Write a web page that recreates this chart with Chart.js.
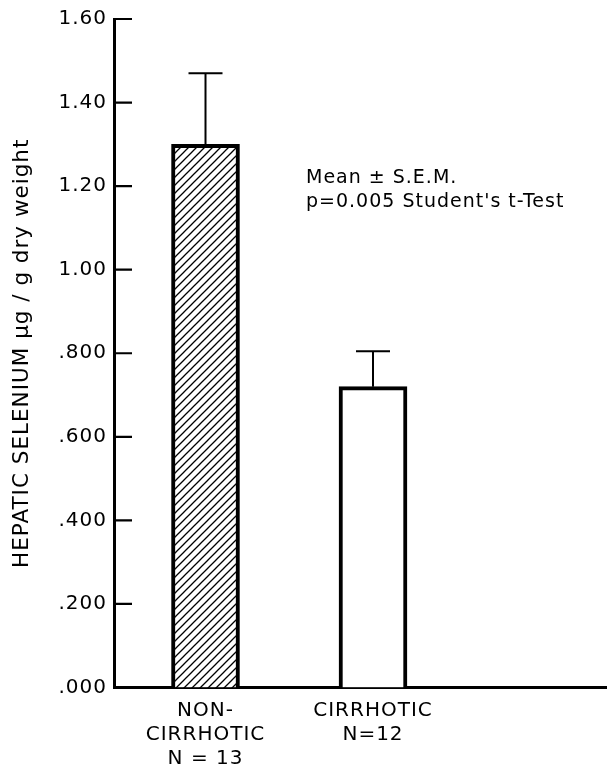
<!DOCTYPE html>
<html><head><meta charset="utf-8">
<script src="https://cdn.jsdelivr.net/npm/chart.js@4.4.0/dist/chart.umd.min.js"></script>
<style>html,body{margin:0;padding:0;background:#fff}</style>
</head><body>
<canvas id="c" width="607" height="767" style="width:607px;height:767px;display:block"></canvas>
<script>
const categories = [["NON-", "CIRRHOTIC", "N = 13"], ["CIRRHOTIC", "N=12"]];
const positions = [1, 2];
const means = [1.30, 0.72];
const sems = [0.17, 0.085];
const yTickValues = [0, 0.2, 0.4, 0.6, 0.8, 1.0, 1.2, 1.4, 1.6];
const yTickLabels = [".000", ".200", ".400", ".600", ".800", "1.00", "1.20", "1.40", "1.60"];
const yTitle = "HEPATIC SELENIUM \u00B5g / g dry weight";
const notes = ["Mean \u00B1 S.E.M.", "p=0.005 Student's t-Test"];

function hatch() {
  const s = 8;
  const c = document.createElement('canvas');
  c.width = s; c.height = s;
  const g = c.getContext('2d');
  g.fillStyle = '#fff'; g.fillRect(0, 0, s, s);
  g.strokeStyle = '#000'; g.lineWidth = 1.3;
  g.beginPath();
  g.moveTo(0, s); g.lineTo(s, 0);
  g.moveTo(-2, 2); g.lineTo(2, -2);
  g.moveTo(s - 2, s + 2); g.lineTo(s + 2, s - 2);
  g.stroke();
  return document.getElementById('c').getContext('2d').createPattern(c, 'repeat');
}

const FONT = "'DejaVu Sans', sans-serif";

const spacing = {
  id: 'spacing',
  beforeUpdate(chart) { chart.ctx.letterSpacing = '1px'; },
  beforeLayout(chart) { chart.ctx.letterSpacing = '1px'; },
  beforeDraw(chart) { chart.ctx.letterSpacing = '1px'; }
};

const deco = {
  id: 'deco',
  afterDatasetsDraw(chart) {
    const {ctx, scales: {x, y}} = chart;
    ctx.save();
    ctx.strokeStyle = '#000';
    ctx.lineCap = 'butt';
    ctx.lineWidth = 2;
    ctx.beginPath();
    means.forEach((m, i) => {
      const px = x.getPixelForValue(positions[i]);
      const base = y.getPixelForValue(m);
      const top = y.getPixelForValue(m + sems[i]);
      ctx.moveTo(px, base); ctx.lineTo(px, top);
      ctx.moveTo(px - 17, top); ctx.lineTo(px + 17, top);
    });
    ctx.stroke();
    ctx.lineWidth = 2.2;
    ctx.beginPath();
    y.ticks.forEach((t, i) => {
      const py = y.getPixelForTick(i);
      ctx.moveTo(x.left, py); ctx.lineTo(x.left + 18, py);
    });
    ctx.stroke();
    ctx.fillStyle = '#000';
    ctx.letterSpacing = '1px';
    ctx.font = "19px " + FONT;
    ctx.textBaseline = 'middle';
    ctx.textAlign = 'left';
    ctx.fillText(notes[0], 306, 178);
    ctx.fillText(notes[1], 306, 202);
    ctx.restore();
  }
};

new Chart(document.getElementById('c'), {
  type: 'bar',
  data: {
    datasets: [{
      data: positions.map((p, i) => ({x: p, y: means[i]})),
      backgroundColor: [hatch(), '#ffffff'],
      borderColor: '#000',
      borderWidth: 4,
      borderSkipped: 'bottom',
      barThickness: 68
    }]
  },
  options: {
    responsive: false,
    animation: false,
    layout: {padding: {top: 18, right: 0, left: 0, bottom: 0}},
    plugins: {legend: {display: false}, tooltip: {enabled: false}},
    scales: {
      x: {
        type: 'linear',
        offset: false,
        min: 0.4537,
        max: 3.397,
        grid: {display: false, drawTicks: false, offset: false},
        border: {display: true, color: '#000', width: 3},
        afterBuildTicks: (s) => { s.ticks = positions.map(v => ({value: v})); },
        afterFit: (s) => { s.height = 79.5; },
        ticks: {
          padding: 11,
          color: '#000',
          font: {family: FONT, size: 20, lineHeight: 1.2},
          maxRotation: 0,
          autoSkip: false,
          callback: (v, i) => categories[i]
        }
      },
      y: {
        min: 0,
        max: 1.6,
        grid: {display: false, drawTicks: false},
        border: {display: true, color: '#000', width: 3},
        afterBuildTicks: (s) => { s.ticks = yTickValues.map(v => ({value: v})); },
        afterFit: (s) => { s.width = 114; },
        ticks: {
          padding: 7,
          color: '#000',
          font: {family: FONT, size: 20},
          callback: (v, i) => yTickLabels[i]
        },
        title: {
          display: true,
          text: yTitle,
          color: '#000',
          font: {family: FONT, size: 21.5},
          padding: {top: 10, bottom: 0}
        }
      }
    }
  },
  plugins: [spacing, deco]
});
</script>
</body></html>
